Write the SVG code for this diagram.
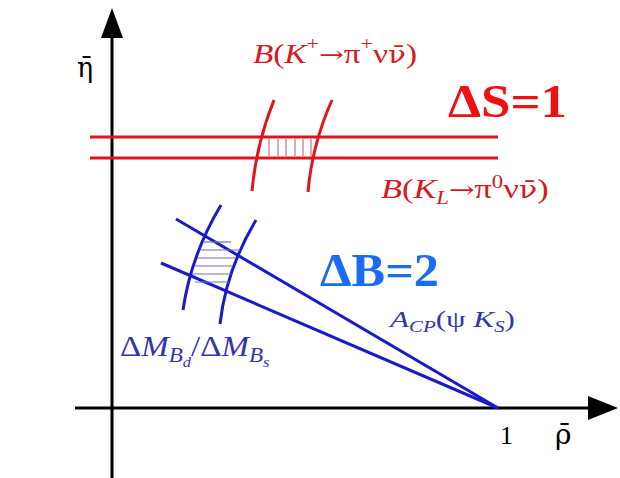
<svg xmlns="http://www.w3.org/2000/svg" width="620" height="478" viewBox="0 0 620 478">
<style>
.ax{stroke:#000;stroke-width:3;fill:none}
.red{stroke:#e0141e;stroke-width:3;fill:none}
.rh{stroke:#c87080;stroke-width:1.2}
.blue{stroke:#1a1ac8;stroke-width:3;fill:none}
.bh{stroke:#7070b8;stroke-width:1.2}
.t{font-family:"Liberation Serif","Times New Roman",serif}
.g{font-family:"DejaVu Serif",serif}
.i{font-style:italic}
</style>
<g id="axes">
<line class="ax" x1="112" y1="478" x2="112" y2="36"/>
<polygon points="112,8 101,38 123,38" fill="#000"/>
<line class="ax" x1="75" y1="408" x2="590" y2="408"/>
<polygon points="618,408 588,396 588,420" fill="#000"/>
<text class="g" x="77" y="77" font-size="27" fill="#000">η̄</text>
<text class="g" x="555" y="444" font-size="28" fill="#000">ρ̄</text>
<text class="t" x="500" y="444" font-size="26" fill="#000">1</text>
</g>
<g id="kaon-region">
<line class="red" x1="90" y1="137" x2="498" y2="137"/>
<line class="red" x1="90" y1="158" x2="498" y2="158"/>
<path class="red" d="M274,100 Q256,145 252,191"/>
<path class="red" d="M332,100 Q312,145 308,192"/>
<g class="rh">
<line x1="269" y1="139" x2="269" y2="156"/>
<line x1="278" y1="139" x2="278" y2="156"/>
<line x1="286" y1="139" x2="286" y2="156"/>
<line x1="295" y1="139" x2="295" y2="156"/>
<line x1="303" y1="139" x2="303" y2="156"/>
<line x1="311" y1="139" x2="311" y2="156"/>
</g>
<text class="t" transform="translate(253,63) scale(1.23,1)" font-size="27" fill="#d41a22"><tspan class="i">B</tspan>(<tspan class="i">K</tspan><tspan font-size="18" dy="-13">+</tspan><tspan class="g" dy="13" font-size="24">→</tspan>π<tspan font-size="18" dy="-13">+</tspan><tspan dy="13">ν</tspan><tspan class="g" font-size="24">ν̄</tspan>)</text>
<text class="t" transform="translate(381,198) scale(1.27,1)" font-size="27" fill="#d41a22"><tspan class="i">B</tspan>(<tspan class="i">K</tspan><tspan class="i" font-size="18" dy="6">L</tspan><tspan class="g" dy="-6" font-size="24">→</tspan>π<tspan font-size="18" dy="-10">0</tspan><tspan dy="10">ν</tspan><tspan class="g" font-size="24">ν̄</tspan>)</text>
<text class="t" x="448" y="117" font-size="46" font-weight="bold" fill="#ee1111" textLength="119" lengthAdjust="spacingAndGlyphs">ΔS=1</text>
</g>
<g id="b-region">
<line class="blue" x1="176" y1="219" x2="498" y2="408"/>
<line class="blue" x1="161" y1="263" x2="498" y2="408"/>
<path class="blue" d="M221,205 Q191,255 183,310"/>
<path class="blue" d="M256,220 Q226,270 220,324"/>
<g class="bh">
<line x1="203" y1="242" x2="231" y2="242"/>
<line x1="200" y1="250" x2="240" y2="250"/>
<line x1="197" y1="258" x2="236" y2="258"/>
<line x1="195" y1="266" x2="233" y2="266"/>
<line x1="192" y1="274" x2="231" y2="274"/>
<line x1="195" y1="282" x2="229" y2="282"/>
</g>
<text class="t" x="320" y="286" font-size="47" font-weight="bold" fill="#1a6cf0" textLength="119" lengthAdjust="spacingAndGlyphs">ΔB=2</text>
<text class="t" transform="translate(390,327) scale(1.3,1)" font-size="24" fill="#3434b0"><tspan class="i">A</tspan><tspan class="i" font-size="16" dy="5">CP</tspan><tspan dy="-5">(ψ </tspan><tspan class="i">K</tspan><tspan class="i" font-size="16" dy="5">S</tspan><tspan dy="-5">)</tspan></text>
<text class="t" transform="translate(120,356) scale(1.1,1)" font-size="30" fill="#3434b0">Δ<tspan class="i">M</tspan><tspan class="i" font-size="21" dy="6">B</tspan><tspan class="i" font-size="15" dy="5">d</tspan><tspan dy="-11">/Δ</tspan><tspan class="i">M</tspan><tspan class="i" font-size="21" dy="6">B</tspan><tspan class="i" font-size="15" dy="5">s</tspan></text>
</g>
</svg>
